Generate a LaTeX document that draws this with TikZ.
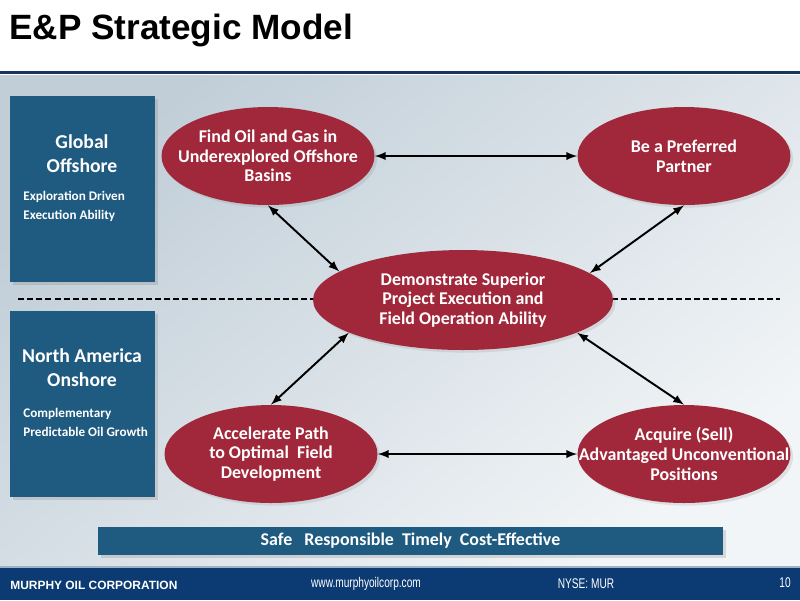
\documentclass[tikz,border=0pt]{standalone}
\usepackage{fontspec}
\setmainfont{Carlito}
\newfontfamily\arialfont{Liberation Sans}
\newfontfamily\narrowfont[FakeStretch=0.72]{Liberation Sans}
\usetikzlibrary{shapes.geometric,shadows}
\definecolor{goalred}{HTML}{A0283A}
\definecolor{boxblue}{HTML}{1F5A80}
\definecolor{footnavy}{HTML}{0C3B73}
\definecolor{rulenavy}{HTML}{17355F}
\definecolor{panelA}{HTML}{C1CED8}
\definecolor{panelB}{HTML}{CCD7DF}
\definecolor{panelC}{HTML}{F2F5F7}
\begin{document}
\begin{tikzpicture}[>=latex, x=0.02cm, y=-0.02cm,
    goal/.style={ellipse, fill=goalred, inner sep=0pt, minimum width=4.26cm, minimum height=1.96cm,
        drop shadow={opacity=.18, shadow xshift=1.5pt, shadow yshift=-1.5pt}},
    goaltext/.style={text=white, align=center, inner sep=0pt, font=\bfseries\fontsize{10.2}{11.2}\selectfont},
    region/.style={rectangle, fill=boxblue, inner sep=0pt, minimum width=2.9cm, minimum height=3.72cm,
        drop shadow={opacity=.25, shadow xshift=1.5pt, shadow yshift=-1.5pt}},
    regionhead/.style={text=white, align=center, font=\bfseries\fontsize{11.2}{13.6}\selectfont},
    regionsub/.style={text=white, align=left, anchor=west, inner sep=0pt, font=\bfseries\fontsize{7.5}{10.8}\selectfont},
    link/.style={<->, line width=1.1pt},
    foot/.style={text=white, inner sep=0pt}]
    \useasboundingbox (0,0) rectangle (800,600);
    % page background
    \fill[white] (0,0) rectangle (800,600);
    \shade[top color=panelA, middle color=panelB, bottom color=panelC, shading angle=40] (0,75) rectangle (800,567);
    \fill[rulenavy] (0,71) rectangle (800,74);
    \fill[footnavy] (0,567) rectangle (800,600);
    \draw[white!60!footnavy, line width=.6pt] (0,567) -- (800,567);
    \node[anchor=base west, inner sep=0pt, font=\arialfont\bfseries\fontsize{20}{24}\selectfont] (title) at (9,39) {E\&P Strategic Model};
    % regions
    \draw[line width=1.1pt, dash pattern=on 3.4pt off 1.8pt] (18,299) -- (780,299);
    \node[region] (offshore) at (82.5,189) {};
    \node[regionhead] (offhead) at (82,154) {Global\\Offshore};
    \node[regionsub] (offsub) at (23,206.5) {Exploration Driven\\Execution Ability};
    \node[region] (onshore) at (82.5,404) {};
    \node[regionhead] (onhead) at (82,368) {North America\\Onshore};
    \node[regionsub] (onsub) at (23,422.5) {Complementary\\Predictable Oil Growth};
    % goals
    \node[goal, label={[goaltext]center:Find Oil and Gas in\\Underexplored Offshore\\Basins}] (find) at (268,156) {};
    \node[goal, label={[goaltext]center:Be a Preferred\\Partner}] (partner) at (684,156) {};
    \node[goal, minimum width=6cm, minimum height=2cm, label={[goaltext]center:Demonstrate Superior\\Project Execution and\\Field Operation Ability}] (execute) at (463,300) {};
    \node[goal, label={[goaltext]center:Accelerate Path\\to Optimal\ \ Field\\Development}] (accel) at (271,454) {};
    \node[goal, label={[goaltext]center:Acquire (Sell)\\Advantaged Unconventional\\Positions}] (acquire) at (684,454) {};
    \draw[link] (find) -- (partner);
    \draw[link] (accel) -- (acquire);
    \draw[link] (find.south) -- (execute.167);
    \draw[link] (partner.south) -- (execute.12);
    \draw[link] (execute.196) -- (accel.north);
    \draw[link] (execute.-16) -- (acquire.north);
    % values bar
    \node[rectangle, fill=boxblue, minimum width=12.5cm, minimum height=.56cm, inner sep=0pt,
        drop shadow={opacity=.25, shadow xshift=1.5pt, shadow yshift=-1.5pt},
        text=white, font=\bfseries\fontsize{10.2}{12}\selectfont] (values) at (410.5,541)
        {Safe\ \ \ Responsible\ \ Timely\ \ Cost-Effective};
    % footer
    \node[foot, anchor=west, font=\arialfont\bfseries\fontsize{6.8}{8}\selectfont] (company) at (10,585) {MURPHY OIL CORPORATION};
    \node[foot, font=\narrowfont\fontsize{8}{9}\selectfont] (web) at (366,584) {www.murphyoilcorp.com};
    \node[foot, font=\narrowfont\fontsize{8}{9}\selectfont] (ticker) at (586,584) {NYSE: MUR};
    \node[foot, font=\narrowfont\fontsize{8}{9}\selectfont] (page) at (785,583) {10};
\end{tikzpicture}
\end{document}
